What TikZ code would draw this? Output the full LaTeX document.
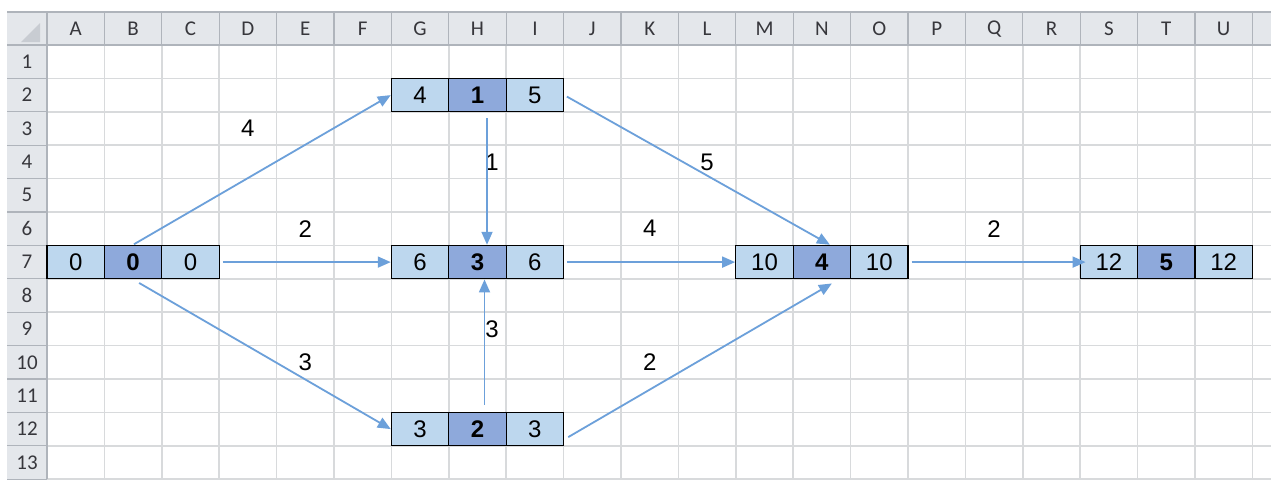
\documentclass[tikz,border=0pt]{standalone}
\usepackage{fontspec}
\setmainfont{Liberation Sans}
\newfontfamily\hdrfont{Carlito}
\usetikzlibrary{arrows.meta}
\definecolor{hdrbg}{RGB}{228,231,235}
\definecolor{hdrline}{RGB}{175,180,187}
\definecolor{gridc}{RGB}{216,218,220}
\definecolor{cornertri}{RGB}{200,204,210}
\definecolor{lightb}{RGB}{189,215,238}
\definecolor{midb}{RGB}{142,169,219}
\definecolor{arrc}{RGB}{108,160,218}
\definecolor{hdrtxt}{RGB}{55,55,60}
\begin{document}
\begin{tikzpicture}[x=1pt,y=-1pt,
  cellL/.style={draw=black,line width=1.3pt,fill=lightb,minimum width=57.4pt,minimum height=33.4pt,inner sep=0pt,font=\fontsize{24}{26}\selectfont},
  cellM/.style={cellL,fill=midb,font=\fontsize{24}{26}\selectfont\bfseries},
  lbl/.style={font=\fontsize{24}{26}\selectfont,inner sep=0pt},
  hdr/.style={font=\hdrfont\fontsize{21}{22}\selectfont,text=hdrtxt,inner sep=0pt},
  link/.style={draw=arrc,line width=1.8pt,-{Triangle[length=13pt,width=11pt]}},
  gridln/.style={draw=gridc,line width=1.5pt},
  hdrln/.style={draw=hdrline,line width=1.2pt}
]
\useasboundingbox (0,0) rectangle (1271,479);
\fill[white] (0,0) rectangle (1271,479);
% body grid
\foreach \k in {0,...,21} \draw[gridln] ({47+\k*57.4},45) -- ({47+\k*57.4},479);
\foreach \k in {0,...,13} \draw[gridln] (47,{45+\k*33.4}) -- (1271,{45+\k*33.4});
% headers
\fill[hdrbg] (7,12) rectangle (1271,45);
\fill[hdrbg] (7,45) rectangle (47,479);
\foreach \k in {0,...,21} \draw[hdrln] ({47+\k*57.4},12) -- ({47+\k*57.4},45);
\foreach \k in {0,...,13} \draw[hdrln] (7,{45+\k*33.4}) -- (47,{45+\k*33.4});
\draw[hdrln] (7,12) -- (1271,12);
\draw[hdrln] (7,45) -- (1271,45);
\draw[hdrln] (47,12) -- (47,479);
\fill[cornertri] (40,23) -- (40,42) -- (21,42) -- cycle;
\foreach \l [count=\k from 0] in {A,B,C,D,E,F,G,H,I,J,K,L,M,N,O,P,Q,R,S,T,U}
  \node[hdr] (col\l) at ({75.7+\k*57.4},29) {\l};
\foreach \r in {1,...,13}
  \node[hdr] (row\r) at (27,{45+(\r-0.5)*33.4}) {\r};
% event nodes
\node[cellL] (n0l) at (75.7,262.1) {0};
\node[cellM] (n0c) at (133.1,262.1) {0};
\node[cellL] (n0r) at (190.5,262.1) {0};
\node[cellL] (n1l) at (420.1,95.1) {4};
\node[cellM] (n1c) at (477.5,95.1) {1};
\node[cellL] (n1r) at (534.9,95.1) {5};
\node[cellL] (n3l) at (420.1,262.1) {6};
\node[cellM] (n3c) at (477.5,262.1) {3};
\node[cellL] (n3r) at (534.9,262.1) {6};
\node[cellL] (n2l) at (420.1,429.1) {3};
\node[cellM] (n2c) at (477.5,429.1) {2};
\node[cellL] (n2r) at (534.9,429.1) {3};
\node[cellL] (n4l) at (764.5,262.1) {10};
\node[cellM] (n4c) at (821.9,262.1) {4};
\node[cellL] (n4r) at (879.3,262.1) {10};
\node[cellL] (n5l) at (1108.9,262.1) {12};
\node[cellM] (n5c) at (1166.3,262.1) {5};
\node[cellL] (n5r) at (1223.7,262.1) {12};
% weights
\node[lbl] (w01) at (247.9,128.5) {4};
\node[lbl] (w03) at (305.3,228.7) {2};
\node[lbl] (w02) at (305.3,362.3) {3};
\node[lbl] (w13) at (492,161.9) {1};
\node[lbl] (w23) at (492,328.9) {3};
\node[lbl] (w14) at (707.1,161.9) {5};
\node[lbl] (w34) at (649.7,228.7) {4};
\node[lbl] (w24) at (649.7,362.3) {2};
\node[lbl] (w45) at (994.1,228.7) {2};
% arrows
\draw[link,shorten <=1pt] (n0c.north) -- (n1l.west);
\draw[link,shorten <=3pt] (n0r.east) -- (n3l.west);
\draw[link,shorten <=7pt] (n0c.south) -- (n2l.west);
\draw[link,shorten <=6pt] ([xshift=9.5pt]n1c.south) -- ([xshift=9.5pt]n3c.north);
\draw[link,shorten <=7pt] ([xshift=7pt]n2c.north) -- ([xshift=7pt]n3c.south);
\draw[link,shorten <=3pt] (n1r.east) -- ([xshift=8pt]n4c.north);
\draw[link,shorten <=3pt] (n3r.east) -- (n4l.west);
\draw[link] ([xshift=4pt,yshift=-8pt]n2r.east) -- ([xshift=10pt,yshift=-4pt]n4c.south);
\draw[link,shorten <=3pt] (n4r.east) -- ([xshift=6pt]n5l.west);
\end{tikzpicture}
\end{document}
